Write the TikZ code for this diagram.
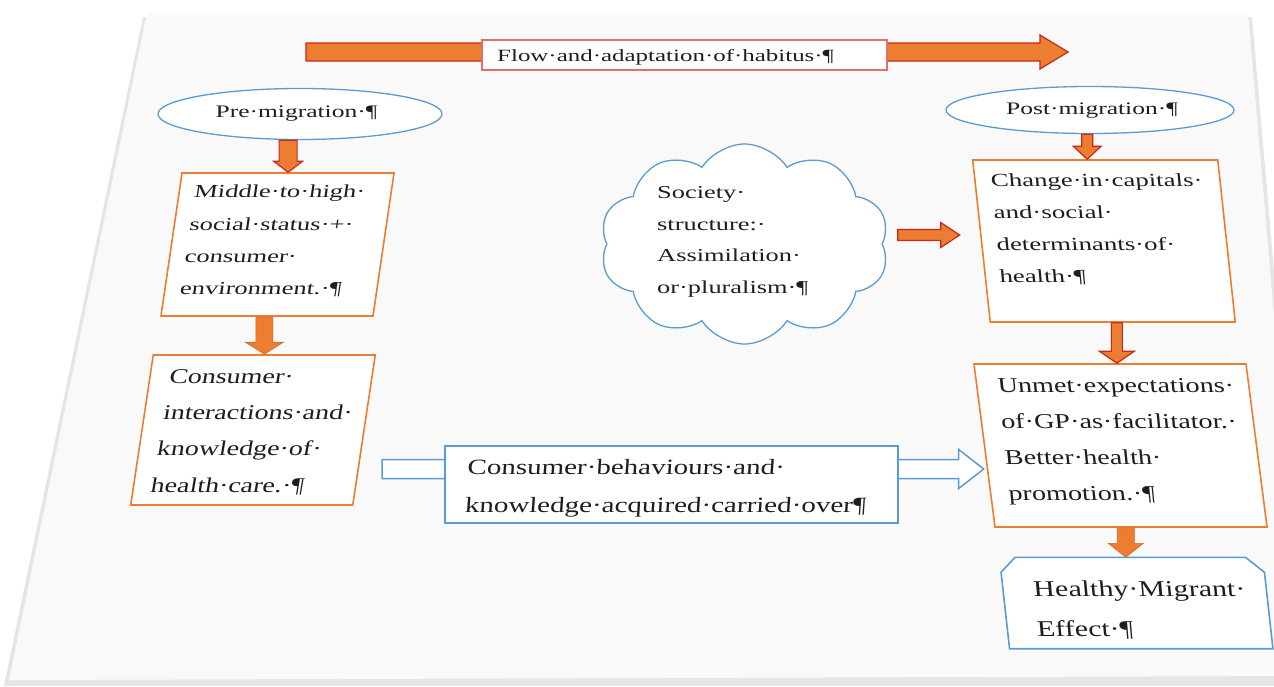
\documentclass[tikz,border=0pt]{standalone}
\usepackage{fontspec}
\setmainfont{Liberation Serif}
\newfontfamily\fA{Liberation Serif}[FakeStretch=1.45]
\newfontfamily\fB{Liberation Serif}[FakeStretch=1.33]
\usetikzlibrary{shapes.geometric,shapes.symbols,calc}
\definecolor{org}{HTML}{ED7D31}
\definecolor{ared}{HTML}{C42A1A}
\definecolor{blu}{HTML}{5B9BD5}
\definecolor{lbl}{HTML}{E07070}
\definecolor{txt}{HTML}{1E1E1E}
\definecolor{pagec}{HTML}{F9F9FA}
\tikzset{
 obox/.style={draw=org, fill=white, line width=1.6pt, inner sep=0pt},
 bbox/.style={draw=blu, fill=white, line width=1.6pt, inner sep=0pt},
 oval/.style={ellipse, draw=blu, fill=white, line width=1.3pt, inner sep=0pt},
 tx/.style={inner sep=0pt, align=left, text=txt},
 redarrow/.style={fill=org, draw=ared, line width=1.2pt, line join=miter},
 plainarrow/.style={fill=org, draw=org!85!black, line width=0.6pt},
 hollowarrow/.style={fill=white, draw=blu, line width=1.5pt},
}
\newcommand\vblock[6]{\path[#1] let \p1=#2, \p2=#3 in (\x2-#4,\y1) -- (\x2-#4,\y2+#6) -- (\x2-#5,\y2+#6) -- (\x2,\y2) -- (\x2+#5,\y2+#6) -- (\x2+#4,\y2+#6) -- (\x2+#4,\y1) -- cycle;}
\newcommand\hblock[6]{\path[#1] let \p1=#2, \p2=#3 in (\x1,\y1-#4) -- (\x2-#6,\y1-#4) -- (\x2-#6,\y1-#5) -- (\x2,\y1) -- (\x2-#6,\y1+#5) -- (\x2-#6,\y1+#4) -- (\x1,\y1+#4) -- cycle;}
\begin{document}
\begin{tikzpicture}[x=1pt,y=-1pt]
\useasboundingbox (0,0) rectangle (1274,686);
\fill[white] (0,0) rectangle (1274,686);
% page
\fill[black!10] (143,17) -- (1252,17) -- (1310,686) -- (4,686) -- cycle;
\fill[pagec] (147,13) -- (1248,13) -- (1305,676) -- (9,680) -- cycle;
% boxes
\node[obox, xslant=0.147, minimum width=212pt, minimum height=143pt] (b1) at (277.5,244.5) {};
\node[obox, xslant=0.15, minimum width=222pt, minimum height=150pt] (b2) at (253,430) {};
\node[obox, xslant=-0.108, minimum width=245pt, minimum height=162pt] (chg) at (1104,241) {};
\node[obox, xslant=-0.129, minimum width=272pt, minimum height=163pt] (unm) at (1120.5,445.5) {};
\node[xslant=-0.093, minimum width=263pt, minimum height=91pt, inner sep=0pt] (hme) at (1137,603) {};
\path[draw=blu, fill=white, line width=1.6pt] ($(hme.north west)+(14,0)$) -- ($(hme.north east)+(-19,0)$) -- ($(hme.north east)+(0,15)$) -- (hme.south east) -- (hme.south west) -- ($(hme.north west)+(0,15)$) -- cycle;
\node[cloud, cloud puffs=10, cloud puff arc=115, cloud ignores aspect, draw=blu, fill=white, line width=1.3pt, minimum width=289pt, minimum height=200pt] (soc) at (744.5,244) {};
\node[oval, minimum width=284pt, minimum height=51pt] (pre) at (300,114) {};
\node[oval, minimum width=288pt, minimum height=47pt] (post) at (1090,110) {};
% hollow arrow and blue box
\coordinate (cs) at (382,469);
\hblock{hollowarrow}{(cs)}{(cs -| unm.west)}{9.5pt}{19.5pt}{25pt}
\node[bbox, minimum width=453pt, minimum height=77pt] (carry) at (671.5,484.5) {};
% flow arrow and label
\coordinate (fs) at (306,52);
\coordinate (fe) at (1068,52);
\hblock{redarrow}{(fs)}{(fe)}{9pt}{17pt}{28pt}
\node[draw=lbl, fill=white, line width=1.2pt, minimum width=405pt, minimum height=30pt, inner sep=0pt] (flow) at (684.5,55) {};
% orange arrows
\vblock{redarrow}{(pre.south)}{(b1.north)}{9pt}{14.5pt}{11pt}
\vblock{plainarrow}{(b1.south)}{(b2.north)}{8.5pt}{19pt}{12pt}
\vblock{redarrow}{(post.south)}{($(chg.north)+(-8,0)$)}{5.5pt}{14pt}{13pt}
\vblock{redarrow}{(chg.south)}{($(unm.north)+(7,0)$)}{5.5pt}{17.5pt}{12pt}
\vblock{plainarrow}{(unm.south)}{($(hme.north)+(-7,0)$)}{8.5pt}{17.5pt}{14pt}
\hblock{redarrow}{($(soc.east)+(15,-9)$)}{($(chg.west)+(-21,0)$)}{5.5pt}{12.5pt}{19pt}
% texts
\node[tx, anchor=west, font=\fA\fontsize{17.2pt}{21pt}\selectfont] (flowt) at (497,57) {Flow·and·adaptation·of·habitus·¶};
\node[tx, font=\fA\fontsize{17.6pt}{21pt}\selectfont] (pret) at (296.5,114) {Pre·migration·¶};
\node[tx, font=\fA\fontsize{17.6pt}{21pt}\selectfont] (postt) at (1092,111) {Post·migration·¶};
\node[tx, anchor=west, xslant=0.147, font=\fA\fontsize{18.3pt}{32.3pt}\selectfont] (b1t) at (187,241) {Middle·to·high·\\social·status·+·\\consumer·\\environment.·¶};
\node[tx, anchor=west, xslant=0.17, font=\fB\fontsize{21pt}{36.3pt}\selectfont] (b2t) at (160,432) {Consumer·\\interactions·and·\\knowledge·of·\\health·care.·¶};
\node[tx, anchor=west, font=\fA\fontsize{18.2pt}{31.7pt}\selectfont] (soct) at (657,242) {Society·\\structure:·\\Assimilation·\\or·pluralism·¶};
\node[tx, anchor=west, xslant=-0.09, font=\fA\fontsize{18.5pt}{32pt}\selectfont] (chgt) at (995,229.5) {Change·in·capitals·\\and·social·\\determinants·of·\\health·¶};
\node[tx, anchor=west, xslant=-0.1, font=\fB\fontsize{21.2pt}{36pt}\selectfont] (unmt) at (1003,442) {Unmet·expectations·\\of·GP·as·facilitator.·\\Better·health·\\promotion.·¶};
\node[tx, anchor=west, xslant=0.07, font=\fB\fontsize{21.8pt}{38pt}\selectfont] (carryt) at (466,488.5) {Consumer·behaviours·and·\\knowledge·acquired·carried·over¶};
\node[tx, anchor=west, xslant=-0.09, font=\fB\fontsize{22.6pt}{40pt}\selectfont] (hmet) at (1035,610) {Healthy·Migrant·\\Effect·¶};
\end{tikzpicture}
\end{document}
